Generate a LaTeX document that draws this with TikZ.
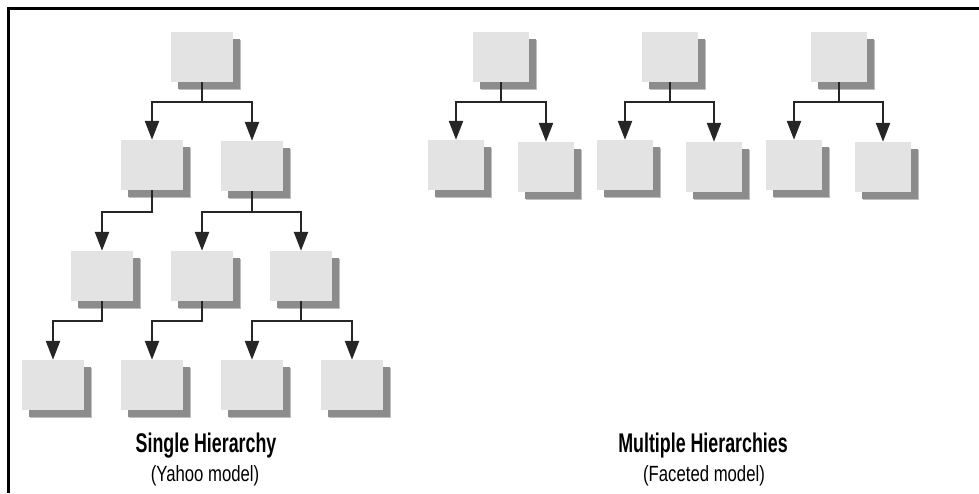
\documentclass[tikz,border=0pt]{standalone}
\usepackage{fontspec}
\newfontfamily\titlefont[FakeStretch=0.66]{Liberation Sans}
\newfontfamily\subfont[FakeStretch=0.76]{Liberation Sans}
\usetikzlibrary{arrows.meta,shadows}
\begin{document}
\begin{tikzpicture}[x=1pt,y=-1pt,
  box/.style={draw=none, fill=black!11, minimum width=62pt, minimum height=50pt, inner sep=0pt,
    drop shadow={shadow xshift=8pt, shadow yshift=-8pt, fill=black!25, opacity=1},
    drop shadow={shadow xshift=6.5pt, shadow yshift=-6.5pt, fill=black!45, opacity=1}},
  sbox/.style={box, minimum width=56pt},
  arr/.style={draw=black!85, line width=2.4pt, -{Triangle[length=19pt,width=14pt]}},
  ttl/.style={anchor=base, inner sep=0pt, font=\titlefont\bfseries\fontsize{27}{27}\selectfont},
  sub/.style={anchor=base, inner sep=0pt, font=\subfont\fontsize{22}{22}\selectfont},
]
\useasboundingbox (0,0) rectangle (979,493);
\draw[line width=3pt] (8,493) -- (8,8) -- (979,8);

% single hierarchy
\node[box] (A) at (202,57) {};
\node[box] (B1) at (152,165) {};
\node[box] (B2) at (252,166) {};
\node[box] (C1) at (102,276) {};
\node[box] (C2) at (202,276) {};
\node[box] (C3) at (301,276) {};
\node[box] (D1) at (53,385) {};
\node[box] (D2) at (152,385) {};
\node[box] (D3) at (252,385) {};
\node[box] (D4) at (352,385) {};

\draw[arr] (A.south) -- ++(0,20) -| (B1.north);
\draw[arr] (A.south) -- ++(0,20) -| (B2.north);
\draw[arr] (B1.south) -- ++(0,22) -| (C1.north);
\draw[arr] (B2.south) -- ++(0,21) -| (C2.north);
\draw[arr] (B2.south) -- ++(0,21) -| (C3.north);
\draw[arr] (C1.south) -- ++(0,20) -| (D1.north);
\draw[arr] (C2.south) -- ++(0,20) -| (D2.north);
\draw[arr] (C3.south) -- ++(0,20) -| (D3.north);
\draw[arr] (C3.south) -- ++(0,20) -| (D4.north);

% multiple hierarchies
\node[sbox] (P1) at (501,57) {};
\node[sbox] (P2) at (670,57) {};
\node[sbox] (P3) at (839,57) {};
\node[sbox] (Q1) at (456,165) {};
\node[sbox] (Q2) at (546,167) {};
\node[sbox] (Q3) at (625,165) {};
\node[sbox] (Q4) at (714,167) {};
\node[sbox] (Q5) at (794,165) {};
\node[sbox] (Q6) at (883,167) {};

\draw[arr] (P1.south) -- ++(0,20) -| (Q1.north);
\draw[arr] (P1.south) -- ++(0,20) -| (Q2.north);
\draw[arr] (P2.south) -- ++(0,20) -| (Q3.north);
\draw[arr] (P2.south) -- ++(0,20) -| (Q4.north);
\draw[arr] (P3.south) -- ++(0,20) -| (Q5.north);
\draw[arr] (P3.south) -- ++(0,20) -| (Q6.north);

% labels
\node[ttl] (t1) at (206,452) {Single Hierarchy};
\node[sub] (s1) at (205,481) {(Yahoo model)};
\node[ttl] (t2) at (703,452) {Multiple Hierarchies};
\node[sub] (s2) at (704,481) {(Faceted model)};
\end{tikzpicture}
\end{document}
